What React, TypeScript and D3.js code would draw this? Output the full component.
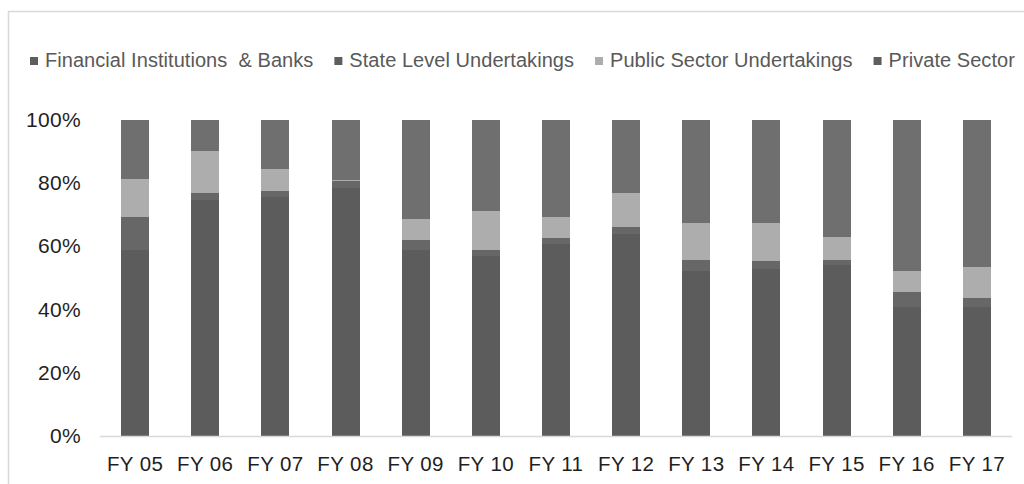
import { useEffect, useRef } from 'react';
import * as d3 from 'd3';

const WIDTH = 1024;
const HEIGHT = 484;

const years = ['FY 05', 'FY 06', 'FY 07', 'FY 08', 'FY 09', 'FY 10', 'FY 11', 'FY 12', 'FY 13', 'FY 14', 'FY 15', 'FY 16', 'FY 17'];

const seriesNames = ['Financial Institutions  & Banks', 'State Level Undertakings', 'Public Sector Undertakings', 'Private Sector'];

// shares in % per year
const financialBanks = [59, 74.7, 75.7, 78.4, 59, 57, 60.7, 63.8, 52.3, 52.8, 54.1, 40.9, 40.9];
const stateLevel = [10.2, 2.3, 1.9, 2.3, 3, 1.9, 1.9, 2.3, 3.5, 2.5, 1.7, 4.7, 2.8];
const publicSector = [12, 13.3, 6.8, 0.4, 6.7, 12.2, 6.6, 10.9, 11.5, 12, 7.3, 6.5, 9.7];
const privateSector = [18.8, 9.7, 15.6, 18.9, 31.3, 28.9, 30.8, 23, 32.7, 32.7, 36.9, 47.9, 46.6];

const seriesColors = ['#5c5c5c', '#676767', '#adadad', '#6f6f6f'];
const yTicks = [0, 0.2, 0.4, 0.6, 0.8, 1];

const FONT = 'Liberation Sans, Arial, sans-serif';

export default function App() {
  const svgRef = useRef<SVGSVGElement | null>(null);

  useEffect(() => {
    if (!svgRef.current) return;
    const svg = d3.select(svgRef.current);
    svg.selectAll('*').remove();

    const margin = { top: 120, right: 12, bottom: 48, left: 100 };
    const plotBottom = HEIGHT - margin.bottom;

    const rows = years.map((year, i) => ({
      year,
      s0: financialBanks[i],
      s1: stateLevel[i],
      s2: publicSector[i],
      s3: privateSector[i],
    }));
    const keys = ['s0', 's1', 's2', 's3'];
    const stacked = d3.stack<any>().keys(keys).offset(d3.stackOffsetExpand)(rows);

    const x = d3
      .scaleBand<string>()
      .domain(years)
      .range([margin.left, WIDTH - margin.right])
      .paddingInner(0.6)
      .paddingOuter(0.3);

    const y = d3.scaleLinear().domain([0, 1]).range([plotBottom, margin.top]);

    svg.append('rect').attr('width', WIDTH).attr('height', HEIGHT).attr('fill', '#ffffff');

    // chart frame, running off the right and bottom edges
    svg
      .append('rect')
      .attr('x', 8.5)
      .attr('y', 11.5)
      .attr('width', WIDTH + 20)
      .attr('height', HEIGHT + 20)
      .attr('fill', 'none')
      .attr('stroke', '#d9d9d9')
      .attr('stroke-width', 1.5);

    // legend (the last entry runs off the right edge, as in the source)
    const legend = svg.append('g').attr('font-family', FONT).attr('font-size', 20);
    let lx = 30;
    seriesNames.forEach((name, i) => {
      legend
        .append('rect')
        .attr('x', lx)
        .attr('y', 57)
        .attr('width', 8)
        .attr('height', 8)
        .attr('fill', seriesColors[i] === '#adadad' ? '#adadad' : '#5e5e5e');
      const t = legend
        .append('text')
        .attr('x', lx + 15)
        .attr('y', 67)
        .attr('fill', '#595959')
        .attr('letter-spacing', 0.05)
        .style('white-space', 'pre')
        .text(name);
      const w = (t.node() as SVGTextElement).getComputedTextLength();
      lx = lx + 15 + w + 21;
    });

    // bars
    svg
      .append('g')
      .attr('shape-rendering', 'crispEdges')
      .selectAll('g')
      .data(stacked)
      .enter()
      .append('g')
      .attr('fill', (_, i) => seriesColors[i])
      .selectAll('rect')
      .data((d) => d)
      .enter()
      .append('rect')
      .attr('x', (d: any) => x(d.data.year) ?? 0)
      .attr('y', (d) => y(d[1]))
      .attr('width', x.bandwidth())
      .attr('height', (d) => y(d[0]) - y(d[1]));

    // baseline
    svg
      .append('line')
      .attr('x1', margin.left)
      .attr('x2', WIDTH - margin.right)
      .attr('y1', plotBottom + 0.5)
      .attr('y2', plotBottom + 0.5)
      .attr('stroke', '#d9d9d9')
      .attr('stroke-width', 1.5);

    // y labels
    svg
      .append('g')
      .selectAll('text')
      .data(yTicks)
      .enter()
      .append('text')
      .attr('x', 81)
      .attr('y', (d) => y(d) + 7)
      .attr('text-anchor', 'end')
      .attr('font-family', FONT)
      .attr('font-size', 21)
      .attr('letter-spacing', 0.3)
      .attr('fill', '#1f1f1f')
      .text((d) => d3.format('.0%')(d));

    // x labels
    svg
      .append('g')
      .selectAll('text')
      .data(years)
      .enter()
      .append('text')
      .attr('x', (d) => (x(d) ?? 0) + x.bandwidth() / 2)
      .attr('y', plotBottom + 35)
      .attr('text-anchor', 'middle')
      .attr('font-family', FONT)
      .attr('font-size', 20.5)
      .attr('letter-spacing', 0.4)
      .attr('fill', '#1f1f1f')
      .text((d) => d);
  }, []);

  return (
    <svg
      ref={svgRef}
      width={WIDTH}
      height={HEIGHT}
      viewBox={`0 0 ${WIDTH} ${HEIGHT}`}
      style={{ position: 'absolute', left: 0, top: 0, display: 'block' }}
    />
  );
}
